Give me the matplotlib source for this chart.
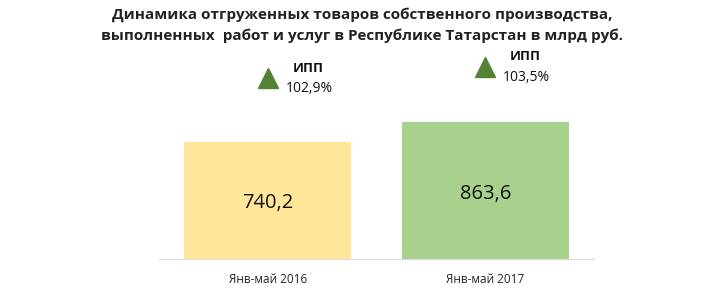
import matplotlib
matplotlib.use("Agg")
import matplotlib.pyplot as plt

categories = ["Янв-май 2016", "Янв-май 2017"]
values = [740.2, 863.6]
value_labels = ["740,2", "863,6"]
ipp_labels = ["102,9%", "103,5%"]
bar_colors = ["#FFE699", "#A9D18E"]

plt.rcParams['font.family'] = ['Open Sans', 'DejaVu Sans']

fig = plt.figure(figsize=(7.10, 2.94), dpi=100)
ax = fig.add_axes([0.224, 0.119, 0.613, 0.711])
x = list(range(len(categories)))
ax.bar(x, values, width=0.768, color=bar_colors, zorder=2)
ax.set_xlim(-0.5, 1.5)
ax.set_ylim(0, 1322)

for xi, v, lab in zip(x, values, value_labels):
    ax.text(xi, v / 2 - 18, lab, ha='center', va='center', fontsize=14.5, color='#111111')

# IPP annotations
tri_y = [1146, 1212]
ipp_title_y = [1203, 1278]
ipp_val_y = [1076, 1149]
for xi, ty, hy, vy, lab in zip(x, tri_y, ipp_title_y, ipp_val_y, ipp_labels):
    ax.plot([xi], [ty], marker='^', markersize=14, color='#548235', clip_on=False, linestyle='none')
    ax.text(xi + 0.185, hy, "ИПП", ha='center', va='center', fontsize=9.5, fontweight='bold', color='#111111')
    ax.text(xi + 0.19, vy, lab, ha='center', va='center', fontsize=10, color='#111111')

ax.set_xticks(x)
ax.set_xticklabels(categories, fontsize=8.5, color='#222222')
ax.tick_params(axis='x', length=0, pad=10)
ax.set_yticks([])
for s in ['top', 'right', 'left']:
    ax.spines[s].set_visible(False)
ax.spines['bottom'].set_color('#D9D9D9')
ax.spines['bottom'].set_linewidth(0.8)

fig.text(0.51, 0.949, "Динамика отгруженных товаров собственного производства,",
         ha='center', va='center', fontsize=11, fontweight='bold', color='#222222')
fig.text(0.51, 0.877, "выполненных  работ и услуг в Республике Татарстан в млрд руб.",
         ha='center', va='center', fontsize=11, fontweight='bold', color='#222222')

fig.savefig("out.png", dpi=100)
